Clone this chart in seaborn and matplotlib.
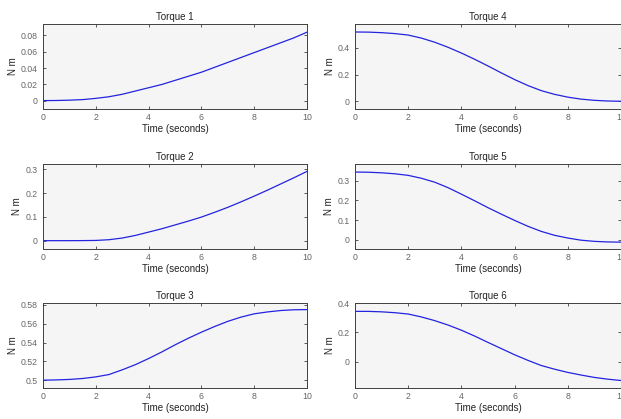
import numpy as np
import pandas as pd
import matplotlib
matplotlib.use("Agg")
import matplotlib.pyplot as plt
import seaborn as sns
from matplotlib.ticker import FuncFormatter

# time samples (seconds)
time_s = [0, 0.5, 1, 1.5, 2, 2.5, 3, 3.5, 4, 4.5, 5, 5.5, 6, 6.5, 7, 7.5, 8, 8.5, 9, 9.5, 10]

# torque values (N m)
torque1 = [0.0003, 0.0004, 0.0008, 0.0015, 0.003, 0.005, 0.008, 0.012, 0.016, 0.020, 0.025,
           0.030, 0.035, 0.041, 0.047, 0.053, 0.059, 0.065, 0.071, 0.077, 0.084]
torque2 = [0.0, 0.0, 0.0, 0.0003, 0.001, 0.004, 0.011, 0.022, 0.036, 0.050, 0.066,
           0.082, 0.099, 0.119, 0.140, 0.163, 0.187, 0.212, 0.238, 0.264, 0.291]
torque3 = [0.5, 0.5003, 0.5008, 0.5018, 0.5035, 0.506, 0.511, 0.5165, 0.523, 0.530, 0.5375,
           0.5445, 0.551, 0.557, 0.5625, 0.567, 0.5705, 0.5725, 0.574, 0.5748, 0.575]
torque4 = [0.52, 0.519, 0.515, 0.508, 0.497, 0.474, 0.443, 0.405, 0.362, 0.315, 0.265,
           0.213, 0.163, 0.118, 0.080, 0.052, 0.031, 0.016, 0.007, 0.002, 0.0]
torque5 = [0.345, 0.344, 0.341, 0.336, 0.328, 0.313, 0.293, 0.265, 0.232, 0.198, 0.163,
           0.13, 0.098, 0.068, 0.042, 0.022, 0.008, -0.003, -0.009, -0.012, -0.013]
torque6 = [0.343, 0.343, 0.34, 0.334, 0.325, 0.305, 0.28, 0.25, 0.215, 0.175, 0.132,
           0.09, 0.048, 0.01, -0.025, -0.05, -0.072, -0.09, -0.106, -0.118, -0.127]

titles = ["Torque 1", "Torque 2", "Torque 3", "Torque 4", "Torque 5", "Torque 6"]
series = [torque1, torque2, torque3, torque4, torque5, torque6]
ylims = [(-0.010, 0.094), (-0.035, 0.322), (0.4917, 0.582),
         (-0.058, 0.58), (-0.048, 0.386), (-0.178, 0.393)]
yticks = [[0, 0.02, 0.04, 0.06, 0.08], [0, 0.1, 0.2, 0.3], [0.5, 0.52, 0.54, 0.56, 0.58],
          [0, 0.2, 0.4], [0, 0.1, 0.2, 0.3], [0, 0.2, 0.4]]
xticks = [0, 2, 4, 6, 8, 10]

sns.set_theme(style="ticks")
plt.rcParams['font.family'] = ['Liberation Sans', 'DejaVu Sans']

fig = plt.figure(figsize=(6.21, 4.19), dpi=100)
W, H = 621, 419
col_left = [43, 355]
col_width = [264, 266]
row_top = [24, 164, 303]
row_h = 85

edge = '#404040'
for i in range(6):
    col = i // 3
    row = i % 3
    x0 = col_left[col] / W
    y0 = 1 - (row_top[row] + row_h) / H
    ax = fig.add_axes([x0, y0, col_width[col] / W, row_h / H])
    ax.set_facecolor('#f5f5f5')
    df = pd.DataFrame({'t': time_s, 'v': series[i]})
    sns.lineplot(data=df, x='t', y='v', ax=ax, color='#2323e0', linewidth=0.9)
    ax.set_xlim(0, 10)
    ax.set_ylim(*ylims[i])
    ax.set_xticks(xticks)
    ax.set_yticks(yticks[i])
    ax.yaxis.set_major_formatter(FuncFormatter(lambda v, p: '%g' % v))
    ax.tick_params(direction='in', length=2.5, width=0.6, colors=edge,
                   labelsize=6.3, labelcolor='#666666', top=True, right=True, pad=4)
    ax.tick_params(axis='x', pad=3)
    for s in ax.spines.values():
        s.set_color(edge)
        s.set_linewidth(0.7)
        s.set_visible(True)
    ax.set_title(titles[i], fontsize=7, color='#222222', pad=3)
    ax.set_xlabel('Time (seconds)', fontsize=7, color='#222222', labelpad=1)
    ax.set_ylabel('N m', fontsize=7, color='#222222', labelpad=2)

fig.savefig('out.png', dpi=100)
